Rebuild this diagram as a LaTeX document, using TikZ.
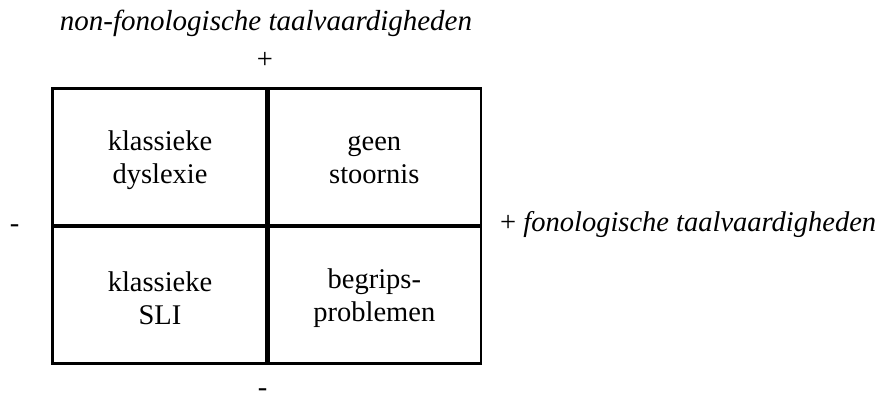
\documentclass[tikz,border=0pt]{standalone}
\usepackage{fontspec}
\setmainfont{Liberation Serif}
\begin{document}
\begin{tikzpicture}[x=1pt,y=-1pt,
  frame/.style={line width=2.7pt},
  divider/.style={line width=4.7pt},
  celltext/.style={align=center,inner sep=0pt,font=\fontsize{28.5}{32.7}\selectfont},
  lbl/.style={inner sep=0pt,font=\fontsize{28.5}{32.7}\selectfont}]
\useasboundingbox (0,0) rectangle (890,401);
% grid
\coordinate (tl) at (52.5,88.5);
\coordinate (br) at (481,363.5);
\coordinate (vt) at (267.5,88.5);
\coordinate (vb) at (267.5,363.5);
\coordinate (hl) at (52.5,226);
\coordinate (hr) at (481,226);
\draw[divider] (vt) -- (vb);
\draw[divider] (hl) -- (hr);
\draw[frame] (tl) rectangle (br);
% cells
\node[celltext] (c1) at (160,160) {klassieke\\dyslexie};
\node[celltext] (c2) at (374.3,160) {geen\\stoornis};
\node[celltext] (c3) at (160,298) {klassieke\\SLI};
\node[celltext] (c4) at (374.3,298) {begrips-\\problemen};
% axis labels
\node[lbl,anchor=base,font=\fontsize{29}{33}\selectfont] (title) at (266,31) {\itshape non-fonologische taalvaardigheden};
\node[lbl,anchor=base] (plustop) at (265,69) {+};
\node[lbl,anchor=base] (minleft) at (14.5,232.5) {-};
\node[lbl,anchor=base] (minbottom) at (262.5,396) {-};
\node[lbl,anchor=base west] (right) at (500,231) {+ \itshape fonologische taalvaardigheden};
\end{tikzpicture}
\end{document}
